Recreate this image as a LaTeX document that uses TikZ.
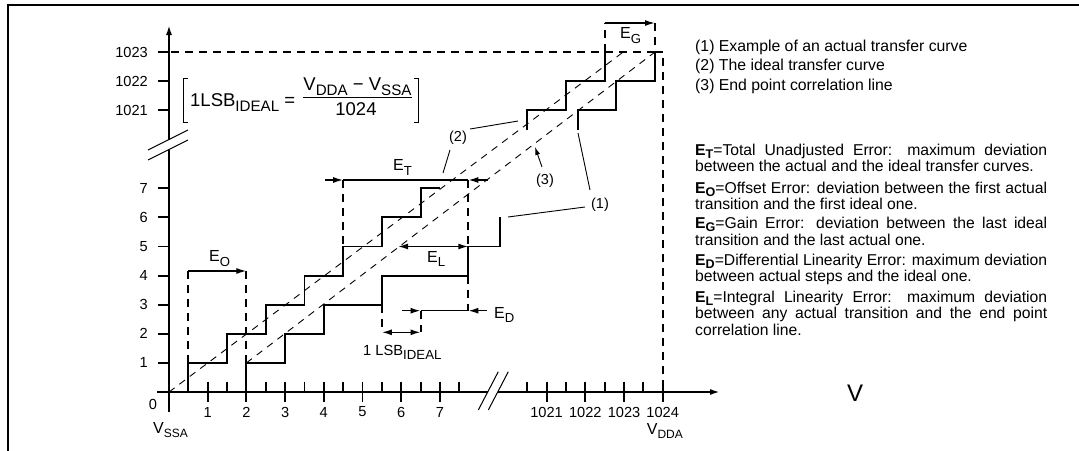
\documentclass[tikz,border=0pt]{standalone}
\usepackage{fontspec}
\usepackage{graphicx}
\setmainfont{Liberation Sans}
\usetikzlibrary{arrows.meta}
\newcommand\sbs[2][0.82]{\raisebox{-0.3em}{\scalebox{#1}{#2}}}
\newcommand\dsbs[1]{\raisebox{-0.22em}{\scalebox{0.8}{#1}}}
\newcommand\fs[1]{\fontsize{#1}{#1}\selectfont}
\begin{document}
\begin{tikzpicture}[x=1pt,y=-1pt,
  axisline/.style={line width=1.9pt},
  stair/.style={line width=1.9pt},
  thickdash/.style={line width=1.9pt,dash pattern=on 8pt off 6pt},
  thindash/.style={line width=0.9pt,dash pattern=on 7pt off 6pt},
  dimline/.style={line width=1.5pt},
  tipr/.style={-{Latex[length=10pt,width=6pt]}},
  tipb/.style={{Latex[length=10pt,width=6pt]}-{Latex[length=10pt,width=6pt]}},
  leader/.style={line width=0.9pt},
  lbl/.style={inner sep=0pt,font=\fs{16}},
  tick/.style={inner sep=0pt,font=\fs{14.6}},
  txt/.style={inner sep=0pt,font=\fs{15.8}},
  defn/.style={inner sep=0pt,text width=352pt,align=justify,font={\fontsize{15.7}{16.5}\selectfont}}
]
\useasboundingbox (0,0) rectangle (1079,450);
% frame
\draw[line width=2pt] (8,452) -- (8,5) -- (1082,5);

% axes
\draw[axisline] (169,412) -- (169,149.5);
\draw[axisline,tipr] (169,139.5) -- (169,25);
\draw[line width=1pt] (148,150) -- (188,130);
\draw[line width=1pt] (148,160) -- (188,140);
\draw[axisline] (157,392) -- (487.7,392);
\draw[axisline,tipr] (497.7,392) -- (720,392);
\draw[line width=1pt] (478.3,410) -- (498.3,371.7);
\draw[line width=1pt] (488.3,410) -- (508.3,371.7);

% x ticks
\foreach \x in {207.7,246.4,285.1,323.8,362.5,401.2,439.9,546.6,585.3,624,662.7}
  \draw[axisline] (\x,381.7) -- (\x,401.7);
\foreach \x in {188.35,227.05,265.75,304.45,343.15,381.85,420.55,459.25,527.3,566,604.6,643.4}
  \draw[axisline] (\x,381.7) -- (\x,392);
% y ticks
\foreach \y in {362.9,333.8,304.7,275.6,246.5,217.4,188.3,110,81,52}
  \draw[axisline] (158,\y) -- (169,\y);

% tick labels
\node[tick,anchor=east] (y1) at (148,362.9) {1};
\node[tick,anchor=east] (y2) at (148,333.8) {2};
\node[tick,anchor=east] (y3) at (148,304.7) {3};
\node[tick,anchor=east] (y4) at (148,275.6) {4};
\node[tick,anchor=east] (y5) at (148,246.5) {5};
\node[tick,anchor=east] (y6) at (148,217.4) {6};
\node[tick,anchor=east] (y7) at (148,188.3) {7};
\node[tick,anchor=east] (y1021) at (148,110) {1021};
\node[tick,anchor=east] (y1022) at (148,81) {1022};
\node[tick,anchor=east] (y1023) at (148,52) {1023};
\node[tick] (x0) at (153,404) {0};
\node[tick] (x1) at (207.7,412) {1};
\node[tick] (x2) at (246.4,412) {2};
\node[tick] (x3) at (285.1,412) {3};
\node[tick] (x4) at (323.8,412) {4};
\node[tick] (x5) at (362.5,412) {5};
\node[tick] (x6) at (401.2,412) {6};
\node[tick] (x7) at (439.9,412) {7};
\node[tick] (x1021) at (546.6,412) {1021};
\node[tick] (x1022) at (585.3,412) {1022};
\node[tick] (x1023) at (624,412) {1023};
\node[tick] (x1024) at (662.7,412) {1024};
\node[lbl,anchor=base west] (vssa) at (153,433) {V\sbs[0.75]{SSA}};
\node[lbl,anchor=base west] (vdda) at (646.7,434) {V\sbs[0.75]{DDA}};
\node[inner sep=0pt,font=\fs{24}] (bigv) at (855,393) {V};

% ideal / correlation lines
\draw[thindash] (169,392) -- (623.3,52);
\draw[thindash] (246.4,362.9) -- (655,52);

% staircases
\draw[stair] (188.35,392) -- (188.35,362.9) -- (227.05,362.9) -- (227.05,333.8) -- (265.75,333.8) -- (265.75,304.7) -- (304.45,304.7) -- (304.45,275.6) -- (343.15,275.6) -- (343.15,246.5) -- (381.85,246.5) -- (381.85,217.4) -- (420.55,217.4) -- (420.55,188.3) -- (439.9,188.3);
\draw[stair] (246.4,392) -- (246.4,362.9) -- (285.1,362.9) -- (285.1,333.8) -- (323.8,333.8) -- (323.8,304.7) -- (381.85,304.7) -- (381.85,275.6) -- (468.3,275.6) -- (468.3,246.5) -- (500,246.5) -- (500,217.4);
\draw[stair] (527.3,130) -- (527.3,110) -- (566,110) -- (566,81) -- (604.6,81) -- (604.6,52);
\draw[stair] (577.7,130) -- (577.7,110) -- (616,110) -- (616,81) -- (655,81) -- (655,52) -- (662.7,52);

% dashed guides
\draw[thickdash] (171,52) -- (655,52);
\draw[thickdash] (604.6,52) -- (604.6,23);
\draw[thickdash] (655,23) -- (655,52);
\draw[thickdash] (662.7,58) -- (662.7,382);
\draw[thickdash] (188.35,271) -- (188.35,362.9);
\draw[thickdash] (246.4,271) -- (246.4,362.9);
\draw[thickdash] (343.15,180) -- (343.15,246.5);
\draw[thickdash] (468.3,180) -- (468.3,246.5);
\draw[thickdash] (468.3,275.6) -- (468.3,310.7);
\draw[thickdash] (381.85,304.7) -- (381.85,332.3);
\draw[thickdash] (420.55,310.7) -- (420.55,332.3);

% dimension arrows
\draw[dimline,tipr] (604.6,23) -- (655,23);
\draw[dimline,tipr] (188.35,271) -- (246.4,271);
\draw[dimline,tipr] (325,180) -- (343.15,180);
\draw[dimline] (343.15,180) -- (468.3,180);
\draw[dimline,tipr] (488,180) -- (468.3,180);
\draw[dimline,tipb] (398,246.5) -- (468.3,246.5);
\draw[dimline,tipr] (401.7,310.7) -- (420.55,310.7);
\draw[dimline] (420.55,310.7) -- (468.3,310.7);
\draw[dimline,tipr] (486.7,310.7) -- (468.3,310.7);
\draw[dimline,tipb] (381.85,332.3) -- (420.55,332.3);

% error labels
\node[lbl,anchor=base west] (eg) at (620,38.3) {E\sbs{G}};
\node[lbl,anchor=base west] (eo) at (209,261.7) {E\sbs{O}};
\node[lbl,anchor=base west] (et) at (393,170.7) {E\sbs{T}};
\node[lbl,anchor=base west] (el) at (427,262) {E\sbs{L}};
\node[lbl,anchor=base west] (ed) at (494,318) {E\sbs{D}};
\node[inner sep=0pt,font=\fs{14.7},anchor=base west] (lsb1) at (363,355) {1 LSB\sbs[0.9]{IDEAL}};

% curve labels and leaders
\node[inner sep=0pt,font=\fs{14.5}] (c2) at (458,137.5) {(2)};
\node[inner sep=0pt,font=\fs{14.5}] (c3) at (545,181) {(3)};
\node[inner sep=0pt,font=\fs{14.5}] (c1) at (600,205) {(1)};
\draw[leader] (470,129) -- (518,121);
\draw[leader] (450,150) -- (443,173);
\draw[leader] (585,207) -- (508,217);
\draw[leader] (590,190) -- (578,133);
\draw[leader,-{Latex[length=8pt,width=5pt]}] (542,167) -- (535,147);

% formula
\draw[line width=0.9pt] (188,78) -- (183.5,78) -- (183.5,122) -- (188,122);
\draw[line width=0.9pt] (414,78) -- (418.5,78) -- (418.5,122) -- (414,122);
\node[inner sep=0pt,font=\fs{18.5},anchor=base west] (lsbid) at (190,106) {1LSB\sbs{IDEAL} =};
\node[inner sep=0pt,font=\fs{18.5},anchor=base] (num) at (357.5,90) {V\sbs{DDA} − V\sbs{SSA}};
\node[inner sep=0pt,font=\fs{18.5},anchor=base] (den) at (356,115) {1024};
\draw[line width=0.9pt] (303,97.7) -- (412,97.7);

% legend
\node[txt,anchor=base west] (l1) at (695,51) {(1) Example of an actual transfer curve};
\node[txt,anchor=base west] (l2) at (695,70.5) {(2) The ideal transfer curve};
\node[txt,anchor=base west] (l3) at (695,90) {(3) End point correlation line};

% definitions
\node[defn,anchor=base west] (dt) at (695,155) {\textbf{E\dsbs{T}}=Total Unadjusted Error: maximum deviation\linebreak between the actual and the ideal transfer curves.};
\node[defn,anchor=base west] (do) at (695,193) {\textbf{E\dsbs{O}}=Offset Error: deviation between the first actual\linebreak transition and the first ideal one.};
\node[defn,anchor=base west] (dg) at (695,228.5) {\textbf{E\dsbs{G}}=Gain Error: deviation between the last ideal\linebreak transition and the last actual one.};
\node[defn,anchor=base west] (dd) at (695,265) {\textbf{E\dsbs{D}}=Differential Linearity Error: maximum deviation\linebreak between actual steps and the ideal one.};
\node[defn,anchor=base west] (dl) at (695,302) {\textbf{E\dsbs{L}}=Integral Linearity Error: maximum deviation\linebreak between any actual transition and the end point\linebreak correlation line.};
\end{tikzpicture}
\end{document}
